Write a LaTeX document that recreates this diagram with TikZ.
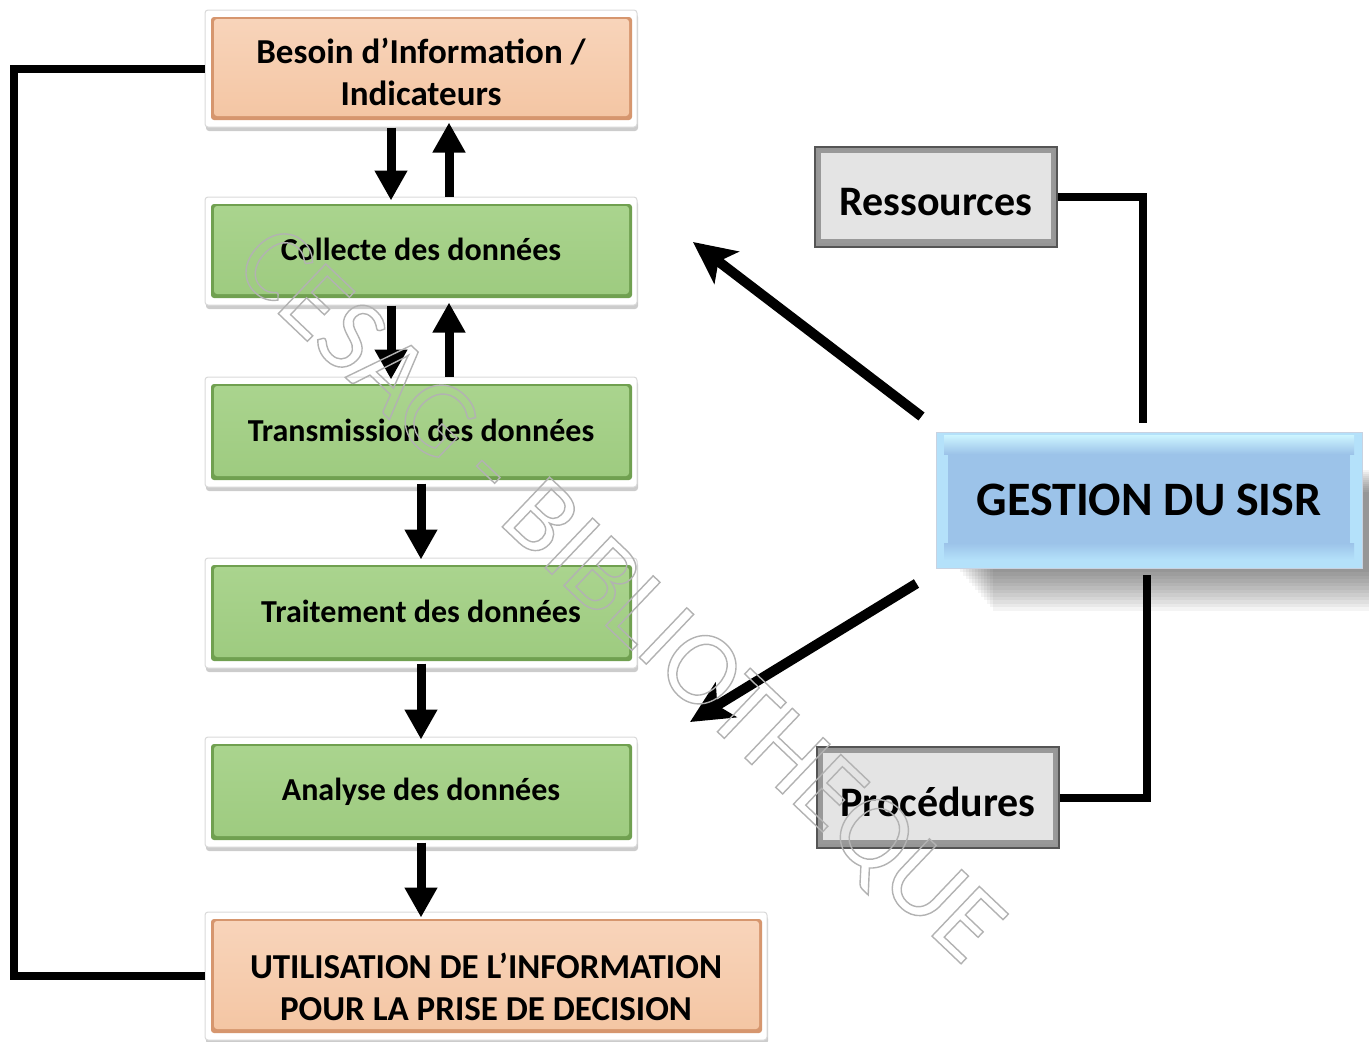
\documentclass[tikz,border=0pt]{standalone}
\usepackage{fontspec}
\setmainfont{Carlito}
\usetikzlibrary{arrows.meta,shadows,calc}
\definecolor{peach}{RGB}{244,198,164}
\definecolor{peachT}{RGB}{248,212,186}
\definecolor{peachE}{RGB}{214,150,110}
\definecolor{green}{RGB}{158,203,128}
\definecolor{greenT}{RGB}{170,212,142}
\definecolor{greenE}{RGB}{112,160,80}
\definecolor{grayM}{RGB}{228,228,228}
\definecolor{grayE}{RGB}{150,150,150}
\definecolor{grayB}{RGB}{85,85,85}
\definecolor{blueM}{RGB}{156,195,233}
\definecolor{blueT}{RGB}{205,245,255}
\definecolor{blueBt}{RGB}{180,225,250}
\definecolor{blueB}{RGB}{200,210,225}
\newcommand\bevelfill[3]{%
  \fill[#1] ([shift={(6pt,-7pt)}]path picture bounding box.north west) rectangle ([shift={(-5pt,7pt)}]path picture bounding box.south east);
  \shade[top color=#2,bottom color=#3] ([shift={(9pt,-9pt)}]path picture bounding box.north west) rectangle ([shift={(-8pt,11pt)}]path picture bounding box.south east);}
\tikzset{
  frame/.style={draw=gray!30, line width=1pt, fill=white, rounded corners=3pt, inner sep=0pt, align=center,
    font=\fontsize{32}{42}\selectfont\bfseries,
    drop shadow={shadow xshift=1pt, shadow yshift=-4pt, opacity=0.2, fill=black}},
  peachbox/.style={frame, path picture={\bevelfill{peachE}{peachT}{peach}}},
  greenbox/.style={frame, path picture={\bevelfill{greenE}{greenT}{green}}},
  peachtext/.style={inner sep=0pt, align=center, font=\fontsize{35}{42}\selectfont\bfseries},
  graybox/.style={draw=grayB, line width=1.5pt, inner sep=0pt,
    path picture={
      \fill[grayE] (path picture bounding box.north west) rectangle (path picture bounding box.south east);
      \fill[gray!75!grayM] ([shift={(3pt,-3pt)}]path picture bounding box.north west) rectangle ([shift={(-3pt,4pt)}]path picture bounding box.south east);
      \fill[grayM] ([shift={(6pt,-6pt)}]path picture bounding box.north west) rectangle ([shift={(-6pt,8pt)}]path picture bounding box.south east);}},
  graytext/.style={inner sep=0pt, font=\fontsize{42}{48}\selectfont\bfseries},
  bluebox/.style={draw=blueB, line width=1pt, inner sep=0pt, align=center, font=\fontsize{48}{54}\selectfont\bfseries,
    path picture={
      \fill[blueBt] (path picture bounding box.north west) rectangle (path picture bounding box.south east);
      \shade[top color=blueT, bottom color=blueM] ([shift={(8pt,-3pt)}]path picture bounding box.north west) rectangle ([shift={(-8pt,-22pt)}]path picture bounding box.north east);
      \fill[blueM] ([shift={(12pt,-22pt)}]path picture bounding box.north west) rectangle ([shift={(-12pt,25pt)}]path picture bounding box.south east);
      \shade[top color=blueM, bottom color=blueBt] ([shift={(8pt,25pt)}]path picture bounding box.south west) rectangle ([shift={(-8pt,8pt)}]path picture bounding box.south east);}},
  varr/.style={line width=9pt, -{Triangle[length=30pt,width=31pt]}},
  darr/.style={line width=10pt, -{Stealth[length=42pt,width=40pt,inset=10pt]}},
  link/.style={line width=8pt}
}
\begin{document}
\begin{tikzpicture}[x=1pt,y=-1pt]
\useasboundingbox (0,0) rectangle (1369,1042);
% GESTION shadow
\foreach \i in {0,...,11}{
  \fill[black, opacity=0.045] (960+3*\i,470+2*\i) rectangle (1369,572+3.5*\i);
}
% left column
\node[peachbox, minimum width=432pt, minimum height=117pt] (b1) at (421,68.5) {};
\node[peachtext] (b1t) at ([yshift=-3.5pt]b1.center) {Besoin d’Information /\\Indicateurs};
\node[greenbox, minimum width=432pt, minimum height=108pt] (col) at (421,251) {\raisebox{3pt}{Collecte des données}};
\node[greenbox, minimum width=432pt, minimum height=110pt] (tra) at (421,432) {\raisebox{3pt}{Transmission des données}};
\node[greenbox, minimum width=432pt, minimum height=110pt] (trt) at (421,613) {\raisebox{3pt}{Traitement des données}};
\node[greenbox, minimum width=432pt, minimum height=110pt] (ana) at (421,792) {\raisebox{3pt}{Analyse des données}};
\node[peachbox, minimum width=562pt, minimum height=128pt] (use) at (486,976) {};
\node[peachtext] (uset) at ([yshift=-11pt]use.center) {UTILISATION DE L’INFORMATION\\POUR LA PRISE DE DECISION};
% right side
\node[graybox, minimum width=242pt, minimum height=100pt] (res) at (936,197) {};
\node[graytext] (rest) at ([yshift=-5pt]res.center) {Ressources};
\node[bluebox, minimum width=426pt, minimum height=136pt] (ges) at (1149,500) {GESTION DU SISR};
\node[graybox, minimum width=242pt, minimum height=101pt] (pro) at (938,797.5) {};
\node[graytext] (prot) at ([yshift=-4.5pt]pro.center) {Procédures};
% vertical arrows
\draw[varr, shorten >=-4pt] ([xshift=-30pt]b1.south) -- ([xshift=-30pt]col.north);
\draw[varr, shorten >=-5pt] ([xshift=28pt]col.north) -- ([xshift=28pt]b1.south);
\draw[varr, shorten >=-3pt] ([xshift=-30pt]col.south) -- ([xshift=-30pt]tra.north);
\draw[varr, shorten >=-3pt] ([xshift=28pt]tra.north) -- ([xshift=28pt]col.south);
\draw[varr, shorten >=-2pt, shorten <=-4pt] (tra.south) -- (trt.north);
\draw[varr, shorten >=-3pt, shorten <=-5pt] (trt.south) -- (ana.north);
\draw[varr, shorten >=-6pt, shorten <=-5pt] (ana.south) -- (ana.south |- use.north);
% feedback loop
\draw[link] (b1.west) -- ++(-191,0) coordinate (lp) |- (use.west);
% right connectors
\draw[link] (res.east) -| ([xshift=-6pt, yshift=9pt]ges.north);
\draw[link] (pro.east) -| ([xshift=-2pt, yshift=-6pt]ges.south);
% diagonal arrows
\coordinate (t1) at (693,242);
\coordinate (t2) at (690,722);
\draw[darr] ([shift={(-14pt,15pt)}]ges.north west) -- (t1);
\draw[darr] ([shift={(-19pt,-15pt)}]ges.south west) -- (t2);
% watermark
\node[rotate=-43.6, font=\fontsize{107}{107}\selectfont, inner sep=0pt, text=black!30] (wm) at (617,598)
  {\special{pdf:literal direct 1 Tr 1.4 w}CESAG - BIBLIOTHEQUE\special{pdf:literal direct 0 Tr 1 w}};
\end{tikzpicture}
\end{document}
